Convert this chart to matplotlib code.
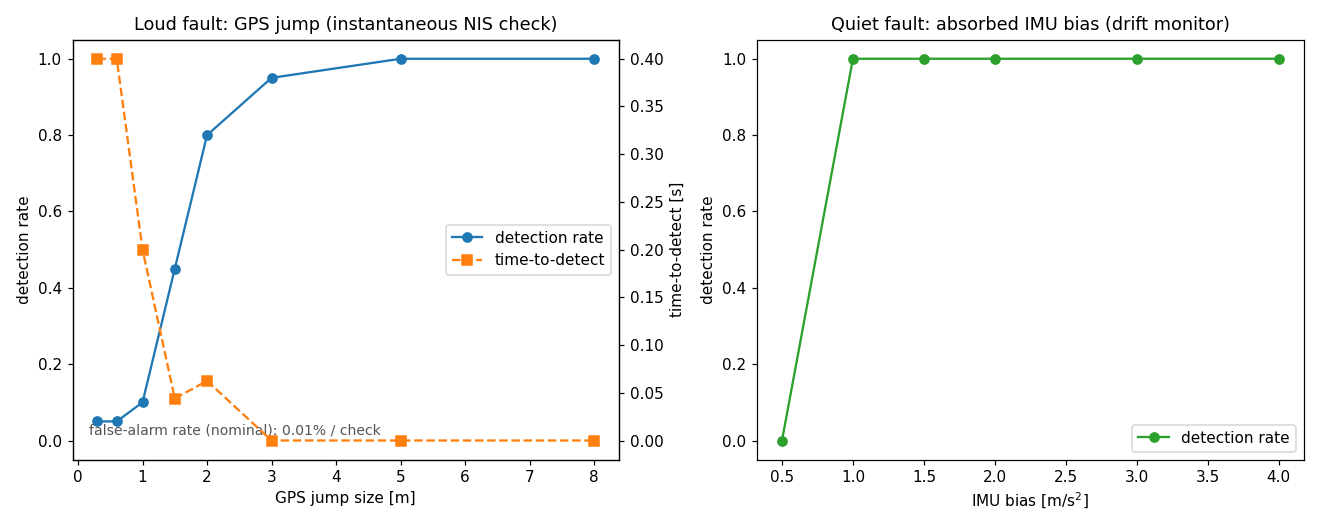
import numpy as np
import matplotlib.pyplot as plt

# Loud fault: GPS jump sweep
jump_size = [0.3, 0.6, 1.0, 1.5, 2.0, 3.0, 5.0, 8.0]
gps_det_rate = [0.05, 0.05, 0.10, 0.45, 0.80, 0.95, 1.0, 1.0]
gps_ttd = [0.40, 0.40, 0.20, 0.044, 0.0625, 0.0, 0.0, 0.0]

# Quiet fault: IMU bias sweep
imu_bias = [0.5, 1.0, 1.5, 2.0, 3.0, 4.0]
imu_det_rate = [0.0, 1.0, 1.0, 1.0, 1.0, 1.0]

fig, (ax1, ax3) = plt.subplots(1, 2, figsize=(12, 4.8), dpi=110)

l1, = ax1.plot(jump_size, gps_det_rate, 'o-', color='C0', label='detection rate')
ax1.set_xlabel("GPS jump size [m]")
ax1.set_ylabel("detection rate")
ax1.set_ylim(-0.05, 1.05)
ax1.set_title("Loud fault: GPS jump (instantaneous NIS check)", fontsize=11.5)

ax2 = ax1.twinx()
l2, = ax2.plot(jump_size, gps_ttd, 's--', color='C1', label='time-to-detect')
ax2.set_ylabel("time-to-detect [s]")
ax1.legend(handles=[l1, l2], loc='center right')

ax1.text(0.03, 0.06, "false-alarm rate (nominal): 0.01% / check",
         transform=ax1.transAxes, fontsize=9.2, color='#555555', zorder=5)

ax3.plot(imu_bias, imu_det_rate, 'o-', color='C2', label='detection rate')
ax3.set_xlabel("IMU bias [m/s$^2$]")
ax3.set_ylabel("detection rate")
ax3.set_ylim(-0.05, 1.05)
ax3.set_title("Quiet fault: absorbed IMU bias (drift monitor)", fontsize=11.5)
ax3.legend(loc='lower right')

plt.tight_layout()
plt.savefig("out.png")
